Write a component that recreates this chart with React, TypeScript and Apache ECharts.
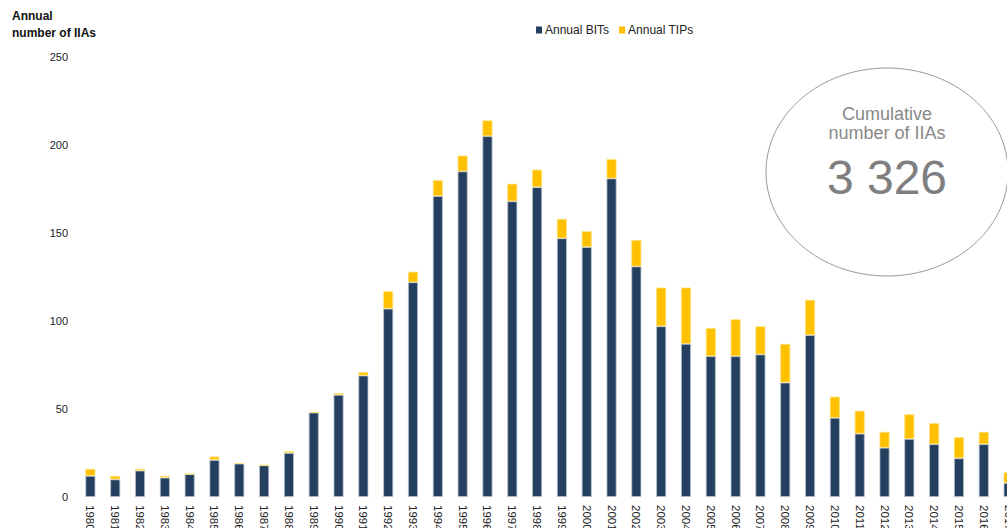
import React, { useEffect, useRef } from "react";
import * as echarts from "echarts";

const years: string[] = [];
for (let y = 1980; y <= 2017; y++) years.push(String(y));

const annualBITs = [
  12, 10, 15, 11, 13, 21, 19, 18, 25, 48,
  58, 69, 107, 122, 171, 185, 205, 168, 176, 147,
  142, 181, 131, 97, 87, 80, 80, 81, 65, 92,
  45, 36, 28, 33, 30, 22, 30, 8,
];
const annualTIPs = [
  4, 2, 1, 1, 0, 2, 0, 0, 1, 0,
  1, 2, 10, 6, 9, 9, 9, 10, 10, 11,
  9, 11, 15, 22, 32, 16, 21, 16, 22, 20,
  12, 13, 9, 14, 12, 12, 7, 6,
];
const yTicks = [0, 50, 100, 150, 200, 250];

export default function App() {
  const ref = useRef<HTMLDivElement>(null);
  useEffect(() => {
    if (!ref.current) return;
    const chart = echarts.init(ref.current, undefined, { renderer: "svg" });
    const font = "Liberation Sans, Arial, sans-serif";
    chart.setOption({
      animation: false,
      textStyle: { fontFamily: font },
      legend: {
        left: 531,
        top: 19,
        icon: "rect",
        itemWidth: 6,
        itemHeight: 7,
        itemGap: 10,
        itemStyle: { borderWidth: 0 },
        textStyle: { fontSize: 12, color: "#222", fontFamily: font, padding: [0, 0, 0, -2] },
        data: ["Annual BITs", "Annual TIPs"],
      },
      grid: { left: 78, right: 9, top: 57, bottom: 31, containLabel: false, outerBoundsMode: "none" },
      xAxis: {
        type: "category",
        data: years,
        axisLine: { show: false },
        axisTick: { show: false },
        axisLabel: { rotate: -90, margin: 8, fontSize: 11.5, color: "#222", fontFamily: font, interval: 0 },
      },
      yAxis: {
        type: "value",
        min: yTicks[0],
        max: yTicks[yTicks.length - 1],
        interval: 50,
        splitLine: { show: false },
        axisLine: { show: false },
        axisTick: { show: false },
        axisLabel: { margin: 10, fontSize: 11, color: "#222", fontFamily: font },
      },
      graphic: [
        { type: "text", left: 12, top: 10, style: { text: "Annual", font: "bold 12px " + font, fill: "#111" } },
        { type: "text", left: 12, top: 27, style: { text: "number of IIAs", font: "bold 12px " + font, fill: "#111" } },
        {
          type: "ellipse",
          shape: { cx: 887, cy: 172, rx: 121, ry: 104 },
          style: { fill: "none", stroke: "#9a9a9a", lineWidth: 1 },
        },
        {
          type: "text",
          x: 887, y: 114,
          style: { text: "Cumulative", font: "18px " + font, fill: "#888888", align: "center", verticalAlign: "middle" },
        },
        {
          type: "text",
          x: 887, y: 133,
          style: { text: "number of IIAs", font: "18px " + font, fill: "#888888", align: "center", verticalAlign: "middle" },
        },
        {
          type: "text",
          x: 887, y: 177,
          style: { text: "3 326", font: "48px " + font, fill: "#7f7f7f", align: "center", verticalAlign: "middle" },
        },
      ],
      series: [
        {
          name: "Annual BITs",
          type: "bar",
          stack: "iia",
          barWidth: 10,
          data: annualBITs,
          itemStyle: { color: "#243f5f", borderColor: "#b7c1cf", borderWidth: 0.8 },
        },
        {
          name: "Annual TIPs",
          type: "bar",
          stack: "iia",
          barWidth: 10,
          data: annualTIPs,
          itemStyle: { color: "#ffc000", borderColor: "#ffe27a", borderWidth: 0.8 },
        },
      ],
    });
    return () => chart.dispose();
  }, []);
  return (
    <div
      ref={ref}
      style={{ position: "fixed", left: 0, top: 0, width: 1030, height: 528, background: "#fff" }}
    />
  );
}
